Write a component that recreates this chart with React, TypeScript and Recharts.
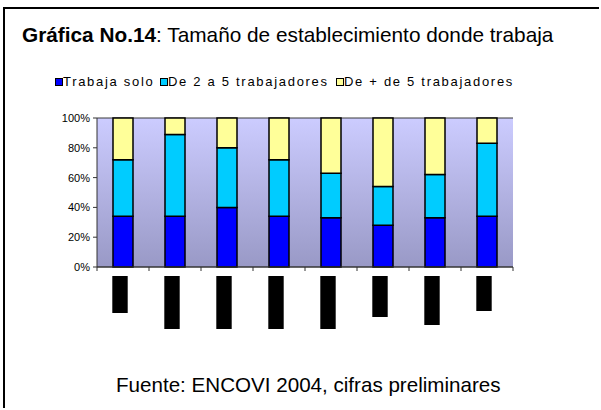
import React from 'react';
import { BarChart, Bar, XAxis, YAxis, CartesianGrid, Legend } from 'recharts';

// Category labels are unreadable (rendered as solid black boxes in the reference)
const categories = ['Cat. 1', 'Cat. 2', 'Cat. 3', 'Cat. 4', 'Cat. 5', 'Cat. 6', 'Cat. 7', 'Cat. 8'];
const labelBoxLengths = [37, 53, 53, 53, 53, 41, 49, 35];
const trabajaSolo = [34, 34, 40, 34, 33, 28, 33, 34];
const de2a5 = [38, 55, 40, 38, 30, 26, 29, 49];
const masDe5 = [28, 11, 20, 28, 37, 46, 38, 17];
const yTicks = [0, 20, 40, 60, 80, 100];

const seriesNames = ['Trabaja solo', 'De 2 a 5 trabajadores', 'De + de 5 trabajadores'];
const seriesColors = ['#0000FF', '#00CCFF', '#FFFF99'];

const data = categories.map((c, i) => ({
  name: c,
  solo: trabajaSolo[i],
  d2a5: de2a5[i],
  mas5: masDe5[i],
}));

const FONT = '"Liberation Sans", Arial, sans-serif';
const legendLefts = [55, 160, 336];

const XTick = (props: any) => {
  const { x, y, index, width, visibleTicksCount } = props;
  const band = width / visibleTicksCount;
  const h = labelBoxLengths[index];
  const left = x - band / 2;
  return (
    <g>
      <line x1={left} x2={left} y1={y - 4} y2={y} stroke="#333" strokeWidth={1} />
      {index === visibleTicksCount - 1 && (
        <line x1={x + band / 2} x2={x + band / 2} y1={y - 4} y2={y} stroke="#333" strokeWidth={1} />
      )}
      <rect x={x - 10.7} y={y + 5} width={15.4} height={h} fill="#000">
        <title>{categories[index]}</title>
      </rect>
    </g>
  );
};

const LegendContent = () => (
  <div style={{ position: 'relative', width: 560, height: 16, fontFamily: FONT, fontSize: 13, letterSpacing: 1.7, color: '#000' }}>
    {seriesNames.map((n, i) => (
      <div key={n} style={{ position: 'absolute', left: legendLefts[i], top: 0, display: 'flex', alignItems: 'center', whiteSpace: 'nowrap', lineHeight: '16px' }}>
        <span style={{ display: 'inline-block', width: 6, height: 6, background: seriesColors[i], border: '1px solid #000', marginRight: 0 }} />
        <span>{n}</span>
      </div>
    ))}
  </div>
);

export default function App() {
  return (
    <div style={{ position: 'fixed', left: 0, top: 0, width: 601, height: 410, background: '#fff' }}>
      <div style={{ position: 'absolute', left: 3, top: 7, width: 596, height: 401, borderLeft: '2px solid #000', borderTop: '2px solid #000', boxSizing: 'border-box' }} />
      <div style={{ position: 'absolute', left: 22, top: 23, fontFamily: FONT, fontSize: 20.8, lineHeight: '24px', color: '#000', whiteSpace: 'nowrap' }}>
        <b>Gráfica No.14</b>: Tamaño de establecimiento donde trabaja
      </div>
      <div style={{ position: 'absolute', left: 116, top: 373, fontFamily: FONT, fontSize: 20.6, lineHeight: '24px', color: '#000', whiteSpace: 'nowrap' }}>
        Fuente: ENCOVI 2004, cifras preliminares
      </div>
      <div style={{ position: 'absolute', left: 0, top: 0 }}>
        <BarChart width={601} height={410} data={data} margin={{ top: 118, right: 88, left: 47, bottom: 73 }}>
          <defs>
            <linearGradient id="plotBg" x1="0" y1="0" x2="0" y2="1">
              <stop offset="0%" stopColor="#CCCCFF" />
              <stop offset="100%" stopColor="#9999C6" />
            </linearGradient>
          </defs>
          <CartesianGrid vertical={false} stroke="#3a3a3a" strokeWidth={1} fill="url(#plotBg)" fillOpacity={1} />
          <XAxis dataKey="name" xAxisId="b" height={70} tickLine={false} tickSize={4} tickMargin={0} interval={0}
            axisLine={{ stroke: '#333', strokeWidth: 1 }} tick={<XTick />} />
          <XAxis dataKey="name" xAxisId="t" orientation="top" height={0} tick={false} tickLine={false}
            axisLine={{ stroke: '#919191', strokeWidth: 2 }} />
          <YAxis yAxisId="l" width={50} domain={[0, 100]} ticks={yTicks} tickFormatter={(v: number) => `${v}%`}
            tickSize={4} tickMargin={3} axisLine={{ stroke: '#333' }} tickLine={{ stroke: '#333' }}
            tick={{ fontSize: 11, fill: '#000', fontFamily: FONT }} />
          <YAxis yAxisId="r" orientation="right" width={0} domain={[0, 100]} tick={false} tickLine={false}
            axisLine={{ stroke: '#919191', strokeWidth: 2 }} />
          <Legend layout="horizontal" verticalAlign="middle" align="center" wrapperStyle={{ top: 74, left: 0, width: 560 }} content={<LegendContent />} />
          <Bar xAxisId="b" yAxisId="l" dataKey="solo" name={seriesNames[0]} stackId="s" fill={seriesColors[0]} stroke="#000" strokeWidth={1.5} barSize={20} isAnimationActive={false} />
          <Bar xAxisId="b" yAxisId="l" dataKey="d2a5" name={seriesNames[1]} stackId="s" fill={seriesColors[1]} stroke="#000" strokeWidth={1.5} barSize={20} isAnimationActive={false} />
          <Bar xAxisId="b" yAxisId="l" dataKey="mas5" name={seriesNames[2]} stackId="s" fill={seriesColors[2]} stroke="#000" strokeWidth={1.5} barSize={20} isAnimationActive={false} />
        </BarChart>
      </div>
    </div>
  );
}
